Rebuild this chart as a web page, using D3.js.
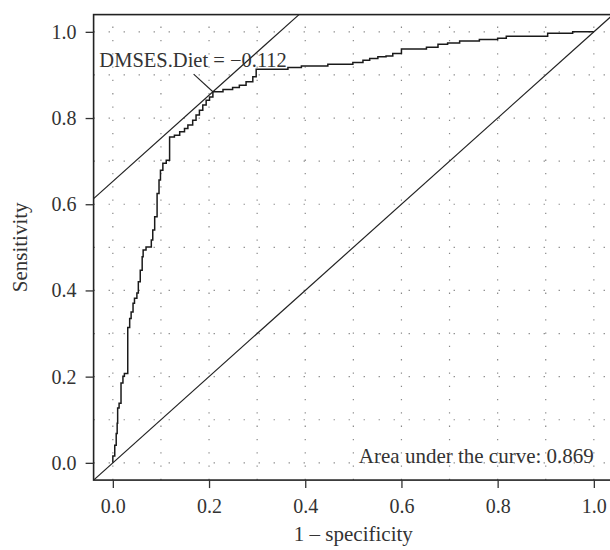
<!DOCTYPE html>
<html>
<head>
<meta charset="utf-8">
<script src="https://cdn.jsdelivr.net/npm/d3@7"></script>
<style>
  body { margin: 0; background: #fff; }
  svg text { font-family: "Liberation Serif", "Times New Roman", serif; fill: #333; }
  .axis path { display: none; }
  .axis line { stroke: #333; stroke-width: 1.3; }
  .axis text { font-size: 20px; }
</style>
</head>
<body>
<div id="chart"></div>
<script>
// ROC curve: 1 - specificity vs sensitivity (vertices of the step curve)
const fpr = [0, 0, 0.004, 0.007, 0.009, 0.010, 0.013, 0.017, 0.021, 0.024,
  0.031, 0.035, 0.038, 0.042, 0.045, 0.050, 0.053, 0.057, 0.061, 0.063,
  0.069, 0.080, 0.083, 0.087, 0.092, 0.096, 0.099, 0.104, 0.111, 0.118,
  0.128, 0.139, 0.149, 0.156, 0.166, 0.173, 0.180, 0.187, 0.194, 0.201,
  0.208, 0.229, 0.249, 0.263, 0.277, 0.291, 0.298, 0.364, 0.392, 0.447,
  0.499, 0.520, 0.534, 0.551, 0.568, 0.582, 0.600, 0.652, 0.676, 0.696,
  0.721, 0.762, 0.800, 0.818, 0.904, 0.956, 1.000];
const tpr = [0, 0.016, 0.041, 0.068, 0.092, 0.127, 0.138, 0.185, 0.201, 0.207,
  0.314, 0.335, 0.350, 0.370, 0.382, 0.394, 0.420, 0.447, 0.478, 0.494,
  0.501, 0.517, 0.540, 0.571, 0.625, 0.656, 0.679, 0.695, 0.702, 0.756,
  0.760, 0.768, 0.776, 0.784, 0.795, 0.807, 0.818, 0.830, 0.841, 0.849,
  0.861, 0.866, 0.871, 0.876, 0.884, 0.896, 0.913, 0.917, 0.921, 0.925,
  0.929, 0.934, 0.938, 0.942, 0.944, 0.950, 0.960, 0.964, 0.971, 0.974,
  0.979, 0.982, 0.985, 0.990, 0.997, 1.000, 1.000];

// best threshold (Youden) point and its label
const bestPoint = { fpr: 0.208, tpr: 0.861 };
const bestLabel = "DMSES.Diet = \u22120.112";
const aucLabel = "Area under the curve: 0.869";

const ticks = [0, 0.2, 0.4, 0.6, 0.8, 1.0];
const gridVals = d3.range(0, 11).map(i => i / 10);

const fullW = 610, fullH = 550;
const plotLeft = 93.6, plotTop = 14.6;
const pxPerUnitX = 481, pxPerUnitY = 431;

const x = d3.scaleLinear().domain([-0.04, 1.04]).range([plotLeft, plotLeft + 1.08 * pxPerUnitX]);
const y = d3.scaleLinear().domain([-0.04, 1.04]).range([plotTop + 1.08 * pxPerUnitY, plotTop]);

const svg = d3.select("#chart").append("svg")
  .attr("width", fullW)
  .attr("height", fullH);

svg.append("defs").append("clipPath").attr("id", "plot-clip")
  .append("rect")
  .attr("x", x(-0.04)).attr("y", y(1.04))
  .attr("width", x(1.04) - x(-0.04))
  .attr("height", y(-0.04) - y(1.04));

// dotted grid
const gridG = svg.append("g").attr("clip-path", "url(#plot-clip)");
gridG.selectAll(".gh").data(gridVals).enter().append("line")
  .attr("x1", x(-0.04)).attr("x2", x(1.04))
  .attr("y1", d => y(d)).attr("y2", d => y(d))
  .attr("stroke", "#888").attr("stroke-width", 1.2)
  .attr("stroke-dasharray", "1.3 13.7");
gridG.selectAll(".gv").data(gridVals).enter().append("line")
  .attr("y1", y(-0.04)).attr("y2", y(1.04))
  .attr("x1", d => x(d)).attr("x2", d => x(d))
  .attr("stroke", "#888").attr("stroke-width", 1.2)
  .attr("stroke-dasharray", "1.3 12");

const plotG = svg.append("g").attr("clip-path", "url(#plot-clip)");

// chance diagonal y = x
plotG.append("line")
  .attr("x1", x(-0.04)).attr("y1", y(-0.04))
  .attr("x2", x(1.04)).attr("y2", y(1.04))
  .attr("stroke", "#222").attr("stroke-width", 1.2);

// tangent through the best point, slope 1
const c = bestPoint.tpr - bestPoint.fpr;
plotG.append("line")
  .attr("x1", x(-0.04)).attr("y1", y(-0.04 + c))
  .attr("x2", x(1.04 - c)).attr("y2", y(1.04))
  .attr("stroke", "#222").attr("stroke-width", 1.2);

// ROC curve
const pts = fpr.map((f, i) => [f, tpr[i]]);
const line = d3.line().x(d => x(d[0])).y(d => y(d[1])).curve(d3.curveStepAfter);
plotG.append("path")
  .attr("d", line(pts))
  .attr("fill", "none")
  .attr("stroke", "#1a1a1a")
  .attr("stroke-width", 1.5);

// label with leader line
plotG.append("line")
  .attr("x1", x(0.168)).attr("y1", y(0.902))
  .attr("x2", x(bestPoint.fpr)).attr("y2", y(bestPoint.tpr))
  .attr("stroke", "#222").attr("stroke-width", 1.1);

svg.append("text")
  .attr("x", x(-0.028)).attr("y", y(0.919))
  .style("font-size", "20.5px")
  .text(bestLabel);

svg.append("text")
  .attr("x", x(1.0)).attr("y", y(0.0))
  .attr("text-anchor", "end")
  .style("font-size", "21px")
  .text(aucLabel);

// frame
svg.append("rect")
  .attr("x", x(-0.04)).attr("y", y(1.04))
  .attr("width", x(1.04) - x(-0.04))
  .attr("height", y(-0.04) - y(1.04))
  .attr("fill", "none").attr("stroke", "#222").attr("stroke-width", 1.6);

// axes
svg.append("g").attr("class", "axis")
  .attr("transform", `translate(0,${y(-0.04)})`)
  .call(d3.axisBottom(x).tickValues(ticks).tickFormat(d3.format(".1f")).tickSize(8).tickPadding(11));

svg.append("g").attr("class", "axis")
  .attr("transform", `translate(${x(-0.04)},0)`)
  .call(d3.axisLeft(y).tickValues(ticks).tickFormat(d3.format(".1f")).tickSize(8).tickPadding(9));

svg.append("text")
  .attr("x", x(0.5)).attr("y", 541)
  .attr("text-anchor", "middle")
  .style("font-size", "21px")
  .text("1 \u2013 specificity");

svg.append("text")
  .attr("transform", `translate(27,${y(0.5)}) rotate(-90)`)
  .attr("text-anchor", "middle")
  .style("font-size", "21px")
  .text("Sensitivity");
</script>
</body>
</html>
